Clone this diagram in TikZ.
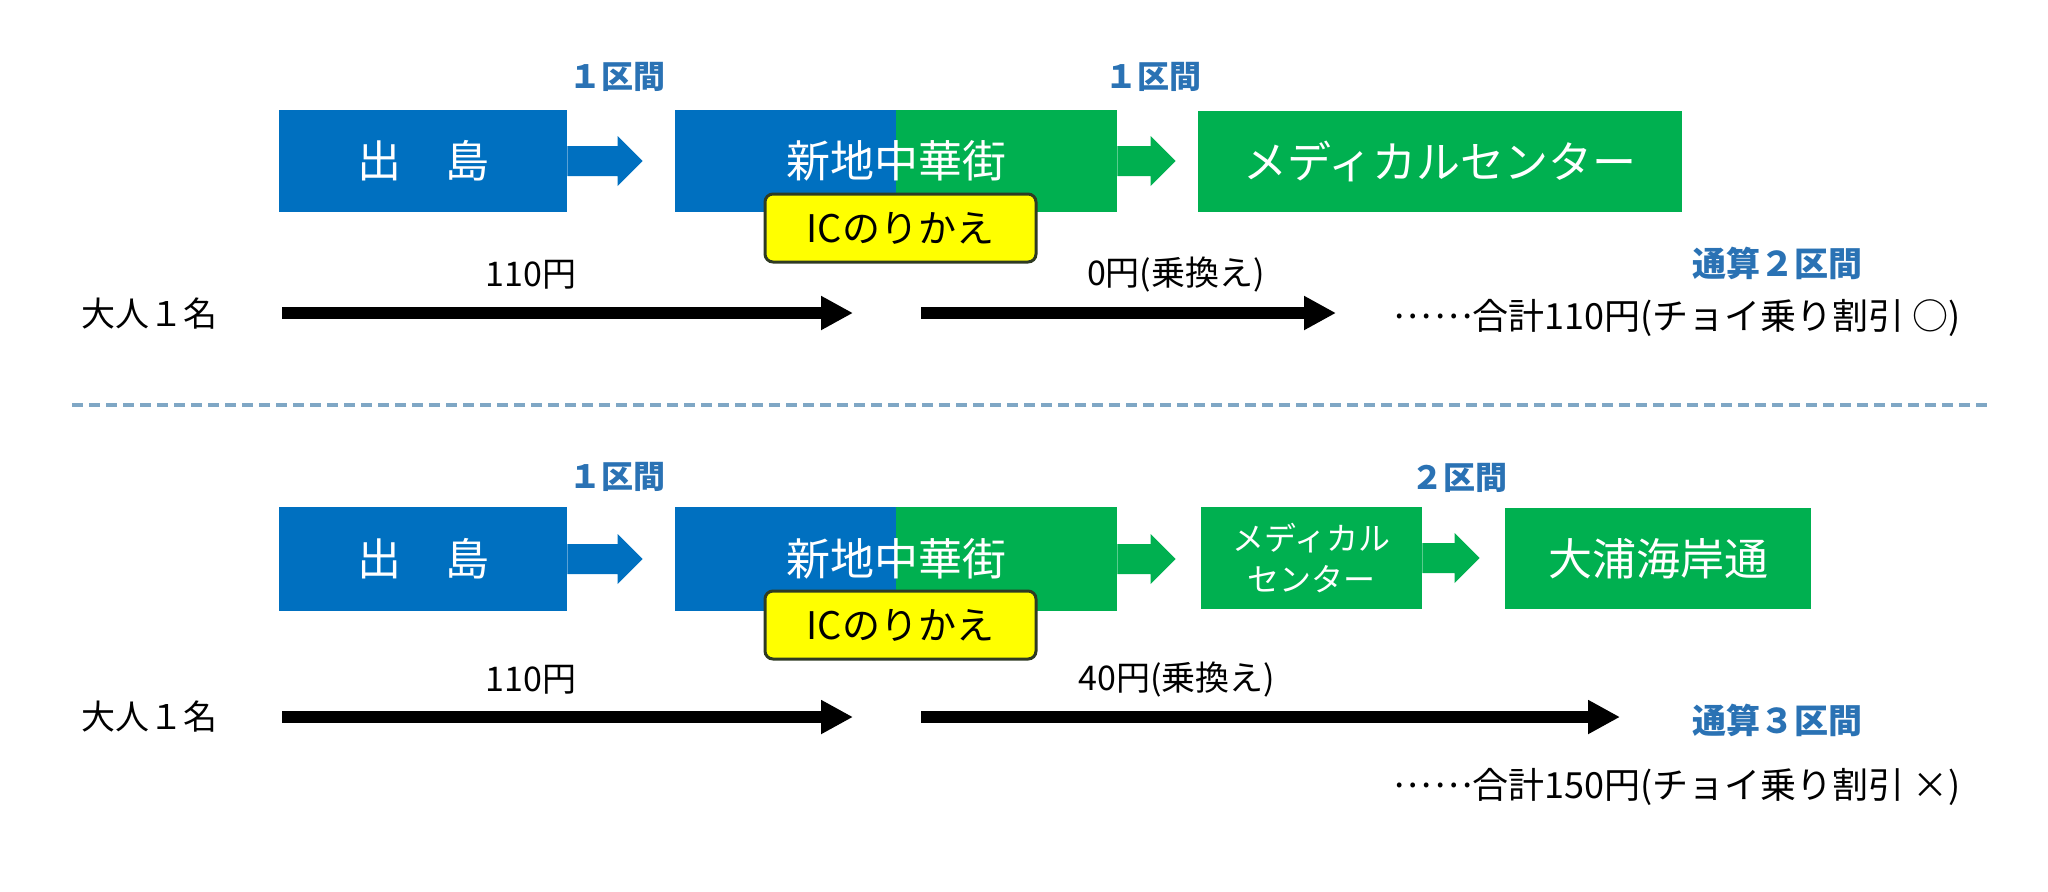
\documentclass[tikz,border=0pt]{standalone}
\usepackage{fontspec}
\setmainfont{Noto Sans CJK JP}
\usetikzlibrary{arrows.meta,calc}
\definecolor{blueC}{HTML}{0070C0}
\definecolor{greenC}{HTML}{00B050}
\definecolor{labelC}{HTML}{2A72B4}
\definecolor{dashC}{HTML}{7FA7C5}
\definecolor{icBorder}{HTML}{2F3B22}
\definecolor{icFill}{HTML}{FFFF00}
% block arrow: colour, from node, to node, gap before the target box (pt)
\newcommand\blockarr[4]{%
  \fill[#1] let \p1=(#2.east), \p2=(#3.west) in
    (\x1,\y1+7.5pt) -- (\x2-#4-12.5pt,\y1+7.5pt) -- (\x2-#4-12.5pt,\y1+12.5pt)
    -- (\x2-#4,\y1) -- (\x2-#4-12.5pt,\y1-12.5pt) -- (\x2-#4-12.5pt,\y1-7.5pt)
    -- (\x1,\y1-7.5pt) -- cycle;}
\newcommand\dotsmid{\raisebox{0.3em}{…\kern0.08em…}}
\begin{document}
\begin{tikzpicture}[x=0.5pt,y=-0.5pt,
  stationbox/.style={inner sep=0pt, text=white, font=\fontsize{22}{26}\selectfont},
  bluebox/.style={stationbox, fill=blueC},
  greenbox/.style={stationbox, fill=greenC},
  splitbox/.style={stationbox,
    path picture={
      \fill[blueC] (path picture bounding box.south west) rectangle (path picture bounding box.north);
      \fill[greenC] (path picture bounding box.south) rectangle (path picture bounding box.north east);}},
  icbox/.style={inner sep=0pt, fill=icFill, draw=icBorder, line width=1.5pt, rounded corners=4pt,
    minimum width=135.5pt, minimum height=34pt, font=\fontsize{19}{22}\selectfont},
  farearrow/.style={line width=6pt, draw=black, -{Triangle[length=16pt,width=16pt]}},
  seclabel/.style={inner sep=0pt, text=labelC, font=\fontsize{16}{19}\selectfont\bfseries},
  totlabel/.style={inner sep=0pt, text=labelC, font=\fontsize{17}{20}\selectfont\bfseries},
  plain/.style={inner sep=0pt, text=black, font=\fontsize{17}{20}\selectfont},
  sumtext/.style={inner sep=0pt, text=black, font=\fontsize{18}{21}\selectfont},
  dashline/.style={draw=dashC, line width=1.65pt, dash pattern=on 5.5pt off 3pt}
]
\useasboundingbox[fill=white] (0,0) rectangle (2048,891);

% ---------------- top row ----------------
\node[seclabel] (secA1) at (617,77) {１区間};
\node[seclabel] (secA2) at (1153,77) {１区間};

\node[bluebox, minimum width=144pt, minimum height=51pt] (dejimaA) at (423,161) {出　島};
\node[splitbox, minimum width=221pt, minimum height=51pt] (shinchiA) at (896,161) {新地中華街};
\node[greenbox, minimum width=242pt, minimum height=50.5pt] (medA) at (1440,161.5) {メディカルセンター};

\blockarr{blueC}{dejimaA}{shinchiA}{16pt}
\blockarr{greenC}{shinchiA}{medA}{11pt}

\node[icbox] (icA) at (900.5,228) {ICのりかえ};

\node[plain] (fareA1) at (531,275) {110円};
\node[plain] (fareA2) at (1176,275) {0円(乗換え)};
\node[totlabel] (totA) at (1777,263) {通算２区間};
\node[plain] (adultA) at (149,314) {大人１名};

\coordinate (a1s) at (282,313);
\coordinate (a1e) at (853,313);
\coordinate (a2s) at (921,313);
\coordinate (a2e) at (1336,313);
\draw[farearrow] (a1s) -- (a1e);
\draw[farearrow] (a2s) -- (a2e);

\node[sumtext] (sumA) at (1677,318) {\dotsmid 合計110円(チョイ乗り割引 ○)};

% ---------------- separator ----------------
\coordinate (dl) at (72,405);
\coordinate (dr) at (1990,405);
\draw[dashline] (dl) -- (dr);

% ---------------- bottom row ----------------
\node[seclabel] (secB1) at (617,477) {１区間};
\node[seclabel] (secB2) at (1459,478) {２区間};

\node[bluebox, minimum width=144pt, minimum height=52pt] (dejimaB) at (423,559) {出　島};
\node[splitbox, minimum width=221pt, minimum height=52pt] (shinchiB) at (896,559) {新地中華街};
\node[greenbox, minimum width=110.5pt, minimum height=51pt, align=center,
      font=\fontsize{16}{20.5}\selectfont] (medB) at (1311.5,558) {メディカル\\センター};
\node[greenbox, minimum width=153pt, minimum height=50.5pt] (oura) at (1658,558.5) {大浦海岸通};

\blockarr{blueC}{dejimaB}{shinchiB}{16pt}
\blockarr{greenC}{shinchiB}{medB}{12.5pt}
\blockarr{greenC}{medB}{oura}{12.5pt}

\node[icbox] (icB) at (900.5,625) {ICのりかえ};

\node[plain] (fareB1) at (531,680) {110円};
\node[plain] (fareB2) at (1177,680) {40円(乗換え)};
\node[plain] (adultB) at (149,717) {大人１名};
\node[totlabel] (totB) at (1777,720) {通算３区間};

\coordinate (b1s) at (282,717);
\coordinate (b1e) at (853,717);
\coordinate (b2s) at (921,717);
\coordinate (b2e) at (1620,717);
\draw[farearrow] (b1s) -- (b1e);
\draw[farearrow] (b2s) -- (b2e);

\node[sumtext] (sumB) at (1677,787) {\dotsmid 合計150円(チョイ乗り割引 ×)};
\end{tikzpicture}
\end{document}
